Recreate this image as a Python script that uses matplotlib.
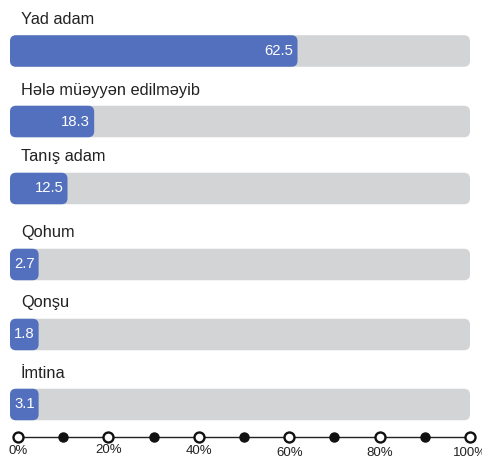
import matplotlib
matplotlib.use('Agg')
import matplotlib.pyplot as plt
from matplotlib.patches import FancyBboxPatch
from matplotlib.transforms import offset_copy

categories = ["Yad adam", "Hələ müəyyən edilməyib", "Tanış adam", "Qohum", "Qonşu", "İmtina"]
values = [62.5, 18.3, 12.5, 2.7, 1.8, 3.1]
value_labels = ["62.5", "18.3", "12.5", "2.7", "1.8", "3.1"]
tick_values = [0, 10, 20, 30, 40, 50, 60, 70, 80, 90, 100]
label_ticks = [0, 20, 40, 60, 80, 100]
tick_labels = ["0%", "20%", "40%", "60%", "80%", "100%"]

plt.rcParams['font.family'] = ['Liberation Sans', 'DejaVu Sans']

W, H = 482, 459
fig = plt.figure(figsize=(W / 100, H / 100), dpi=100)
renderer = fig.canvas.get_renderer()

BLUE = '#5270BE'
GRAY = '#D3D4D6'
TEXT = '#222222'

row_y = [51, 121.5, 188.5, 264.5, 334.5, 404.5]
bar_h = 31.5
r_px = 6

ax = fig.add_axes([10 / W, 0, 460 / W, 1])
ax.set_xlim(0, 100)
ax.set_ylim(H, 0)
ax.axis('off')
pxx = 460 / 100.0

lab_tr = offset_copy(ax.transData, fig=fig, x=11, y=0, units='dots')
for cat, v, vl, y in zip(categories, values, value_labels, row_y):
    bg = FancyBboxPatch((0, y - bar_h / 2), 100, bar_h,
                        boxstyle=f"round,pad=0,rounding_size={r_px / pxx}",
                        mutation_aspect=pxx, facecolor=GRAY, edgecolor='none')
    ax.add_patch(bg)
    ax.text(0, y - 27, cat, transform=lab_tr, fontsize=11.8, color=TEXT,
            ha='left', va='baseline')
    t = ax.text(0, y, vl, fontsize=10.7, color='white', ha='right', va='center')
    tw = t.get_window_extent(renderer).width
    end = max(v, (tw + 8) / pxx)
    fg = FancyBboxPatch((0, y - bar_h / 2), end, bar_h,
                        boxstyle=f"round,pad=0,rounding_size={r_px / pxx}",
                        mutation_aspect=pxx, facecolor=BLUE, edgecolor='none')
    ax.add_patch(fg)
    t.set_zorder(5)
    t.set_x(end)
    t.set_transform(offset_copy(ax.transData, fig=fig, x=-4, y=0, units='dots'))

ax2 = fig.add_axes([18 / W, 0, 452 / W, 1])
ax2.set_xlim(0, 100)
ax2.set_ylim(H, 0)
ax2.axis('off')
axis_y = 436.5
ax2.plot([tick_values[0], tick_values[-1]], [axis_y, axis_y], color='#222222', lw=1.0,
         clip_on=False, zorder=1)
for tv in tick_values:
    if tv in label_ticks:
        ax2.plot([tv], [axis_y], marker='o', markersize=7.2, markerfacecolor='white',
                 markeredgecolor='#111111', markeredgewidth=1.7, clip_on=False, zorder=3)
    else:
        ax2.plot([tv], [axis_y], marker='o', markersize=6.5, markerfacecolor='#111111',
                 markeredgecolor='#111111', clip_on=False, zorder=3)

lab_y = [451, 450, 451, 453, 453, 453]
for tv, tl, ly in zip(label_ticks, tick_labels, lab_y):
    ax2.text(tv, ly, tl, fontsize=9.5, color=TEXT, ha='center', va='center', clip_on=False)

fig.savefig('out.png', dpi=100)
